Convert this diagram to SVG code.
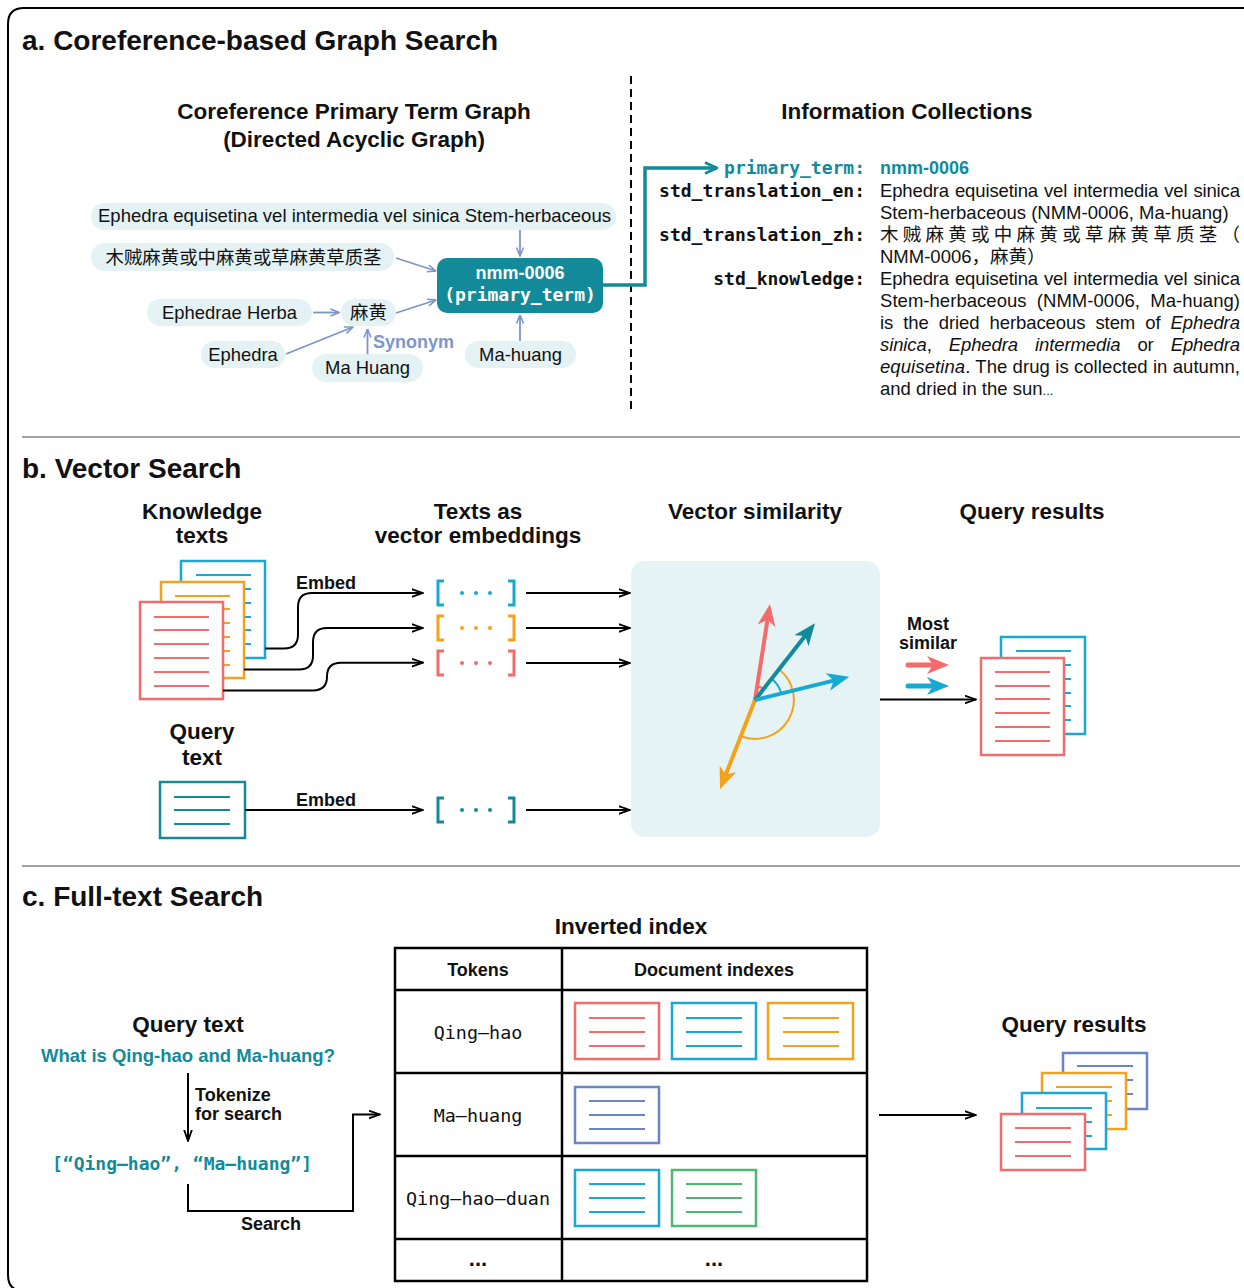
<svg xmlns="http://www.w3.org/2000/svg" width="1244" height="1288" viewBox="0 0 1244 1288">
<defs>
<style>
text{font-family:"Liberation Sans","Noto Sans CJK SC",sans-serif;fill:#111}
.mono{font-family:"DejaVu Sans Mono","Liberation Mono",monospace}
.title{font-weight:bold;font-size:28px}
.head{font-weight:bold;font-size:22.5px;text-anchor:middle}
.pill{fill:#e4f2f4}
.pt{font-size:18.4px;text-anchor:middle}
.lbl{font-weight:bold;font-size:18px}
.body{font-size:18.5px}
.key{font-weight:bold;font-size:18px;text-anchor:end}
.sl{stroke:#7d96c8;stroke-width:1.8;fill:none}
.conn{stroke:#000;stroke-width:2;fill:none}
.sep{stroke:#444;stroke-width:1.2}
.doc{fill:#fff;stroke-width:2.5}
.dl{stroke-width:2.2}
.red{stroke:#f46b6b}.org{stroke:#f5a21b}.blu{stroke:#17a8d4}.tea{stroke:#138a9a}.sla{stroke:#6b84c4}.grn{stroke:#4cb871}
.brk{fill:none;stroke-width:3}
.tbl{stroke:#000;stroke-width:2.5;fill:none}
</style>
<marker id="aSl" viewBox="0 0 10 10" refX="9.5" refY="5" markerWidth="10" markerHeight="10" markerUnits="userSpaceOnUse" orient="auto"><path d="M1,1.5 L9.5,5 L1,8.5" fill="none" stroke="#7d96c8" stroke-width="1.6"/></marker>
<marker id="aBk" viewBox="0 0 12 10" refX="11.5" refY="5" markerWidth="12" markerHeight="10" markerUnits="userSpaceOnUse" orient="auto"><path d="M0,1 L11.5,5 L0,9" fill="none" stroke="#000" stroke-width="1.8"/></marker>
<marker id="aTe" viewBox="0 0 14 14" refX="13" refY="7" markerWidth="14" markerHeight="14" markerUnits="userSpaceOnUse" orient="auto"><path d="M1,1.5 L13,7 L1,12.5" fill="none" stroke="#138a9a" stroke-width="2.6"/></marker>
<marker id="vR" viewBox="0 0 22 18" refX="10" refY="9" markerWidth="22" markerHeight="18" markerUnits="userSpaceOnUse" orient="auto"><path d="M0,0 L22,9 L0,18 L6,9 z" fill="#f46b6b"/></marker>
<marker id="vT" viewBox="0 0 22 18" refX="10" refY="9" markerWidth="22" markerHeight="18" markerUnits="userSpaceOnUse" orient="auto"><path d="M0,0 L22,9 L0,18 L6,9 z" fill="#138a9a"/></marker>
<marker id="vB" viewBox="0 0 22 18" refX="10" refY="9" markerWidth="22" markerHeight="18" markerUnits="userSpaceOnUse" orient="auto"><path d="M0,0 L22,9 L0,18 L6,9 z" fill="#17a8d4"/></marker>
<marker id="vO" viewBox="0 0 22 18" refX="10" refY="9" markerWidth="22" markerHeight="18" markerUnits="userSpaceOnUse" orient="auto"><path d="M0,0 L22,9 L0,18 L6,9 z" fill="#f5a21b"/></marker>
</defs>
<rect width="1244" height="1288" fill="#fff"/>
<path d="M24,1291 Q8,1291 8,1275 V24 Q8,8 24,8 H1260" fill="none" stroke="#000" stroke-width="2"/>
<line class="sep" x1="22" y1="437" x2="1240" y2="437"/>
<line class="sep" x1="22" y1="866" x2="1240" y2="866"/>

<!-- Section a -->
<g id="section-a">
<text class="title" x="22" y="50">a. Coreference-based Graph Search</text>
<text class="head" x="354" y="119">Coreference Primary Term Graph</text>
<text class="head" x="354" y="147">(Directed Acyclic Graph)</text>
<text class="head" x="907" y="119">Information Collections</text>
<line x1="631" y1="76" x2="631" y2="410" stroke="#000" stroke-width="2" stroke-dasharray="8,5"/>
</g>
<g id="node-stem"><rect class="pill" x="91" y="203" width="525" height="27" rx="13.5"/><text class="pt" x="354.5" y="222" textLength="513" lengthAdjust="spacingAndGlyphs">Ephedra equisetina vel intermedia vel sinica Stem-herbaceous</text></g>
<g id="node-zh"><rect class="pill" x="91" y="243" width="303" height="28" rx="14"/><text class="pt" x="243.5" y="263.5">木贼麻黄或中麻黄或草麻黄草质茎</text></g>
<g id="node-primary"><rect x="437" y="258" width="166" height="55" rx="10" fill="#138a9a"/><text class="lbl" x="520" y="279" text-anchor="middle" style="fill:#fff">nmm-0006</text><text class="mono lbl" x="520" y="301" text-anchor="middle" style="fill:#fff">(primary_term)</text></g>
<g id="node-herba"><rect class="pill" x="147" y="299" width="165" height="27" rx="13.5"/><text class="pt" x="229.5" y="319">Ephedrae Herba</text></g>
<g id="node-mahuang-zh"><rect class="pill" x="341" y="299" width="55" height="27" rx="13.5"/><text class="pt" x="368.5" y="319">麻黄</text></g>
<g id="node-ephedra"><rect class="pill" x="201" y="341" width="84" height="27" rx="13.5"/><text class="pt" x="243" y="361">Ephedra</text></g>
<g id="node-ma-huang-sp"><rect class="pill" x="312" y="354" width="111" height="28" rx="14"/><text class="pt" x="367.5" y="374">Ma Huang</text></g>
<g id="node-ma-huang"><rect class="pill" x="465" y="341" width="111" height="27" rx="13.5"/><text class="pt" x="520.5" y="361">Ma-huang</text></g>
<g id="info-collections">
<text class="key mono" x="865" y="174" style="fill:#138a9a">primary_term:</text>
<text class="lbl" x="880" y="174" style="fill:#138a9a">nmm-0006</text>
<text class="key mono" x="865" y="197">std_translation_en:</text>
<text class="body" x="880" y="197" word-spacing="1" textLength="360" lengthAdjust="spacing">Ephedra equisetina vel intermedia vel sinica</text>
<text class="body" x="880" y="219">Stem-herbaceous (NMM-0006, Ma-huang)</text>
<text class="key mono" x="865" y="241">std_translation_zh:</text>
<text class="body" x="880" y="241" textLength="360" lengthAdjust="spacing">木贼麻黄或中麻黄或草麻黄草质茎（</text>
<text class="body" x="880" y="263">NMM-0006，麻黄）</text>
<text class="key mono" x="865" y="285">std_knowledge:</text>
<text class="body" x="880" y="285" word-spacing="1" textLength="360" lengthAdjust="spacing">Ephedra equisetina vel intermedia vel sinica</text>
<text class="body" x="880" y="307" word-spacing="5" textLength="360" lengthAdjust="spacing">Stem-herbaceous (NMM-0006, Ma-huang)</text>
<text class="body" x="880" y="329" word-spacing="5" textLength="360" lengthAdjust="spacing">is the dried herbaceous stem of <tspan font-style="italic">Ephedra</tspan></text>
<text class="body" x="880" y="351" word-spacing="12" textLength="360" lengthAdjust="spacing"><tspan font-style="italic">sinica</tspan>, <tspan font-style="italic">Ephedra intermedia</tspan> or <tspan font-style="italic">Ephedra</tspan></text>
<text class="body" x="880" y="373" textLength="360" lengthAdjust="spacing"><tspan font-style="italic">equisetina</tspan>. The drug is collected in autumn,</text>
<text class="body" x="880" y="395">and dried in the sun<tspan font-size="13">...</tspan></text>
</g>
<g id="connectors-a">
<path class="sl" d="M520,230 V256" marker-end="url(#aSl)"/>
<path class="sl" d="M396,258 L436,271" marker-end="url(#aSl)"/>
<path class="sl" d="M396,313 L436,300" marker-end="url(#aSl)"/>
<path class="sl" d="M313,312.5 L339,312.5" marker-end="url(#aSl)"/>
<path class="sl" d="M286,354 L353,327" marker-end="url(#aSl)"/>
<path class="sl" d="M367.5,354 V329" marker-end="url(#aSl)"/>
<path class="sl" d="M520,341 V315" marker-end="url(#aSl)"/>
<text class="lbl" x="373" y="348" style="fill:#7d96c8">Synonym</text>
<path d="M603,285 H645 V168 H717" fill="none" stroke="#138a9a" stroke-width="3.5" marker-end="url(#aTe)"/>
</g>

<!-- Section b -->
<g id="section-b">
<text class="title" x="22" y="478">b. Vector Search</text>
<text class="head" x="202" y="519">Knowledge</text>
<text class="head" x="202" y="543">texts</text>
<text class="head" x="478" y="519">Texts as</text>
<text class="head" x="478" y="543">vector embeddings</text>
<text class="head" x="755" y="519">Vector similarity</text>
<text class="head" x="1032" y="519">Query results</text>
<text class="head" x="202" y="739">Query</text>
<text class="head" x="202" y="765">text</text>
</g>
<g id="knowledge-docs">
<rect class="doc blu" x="181" y="561" width="84" height="97"/>
<g class="dl blu"><line x1="196" y1="575" x2="251" y2="575"/><line x1="196" y1="589" x2="251" y2="589"/><line x1="196" y1="603" x2="251" y2="603"/><line x1="196" y1="617" x2="251" y2="617"/><line x1="196" y1="630" x2="251" y2="630"/><line x1="196" y1="644" x2="251" y2="644"/></g>
<rect class="doc org" x="161" y="582" width="83" height="96"/>
<g class="dl org"><line x1="175" y1="596" x2="230" y2="596"/><line x1="175" y1="609" x2="230" y2="609"/><line x1="175" y1="623" x2="230" y2="623"/><line x1="175" y1="637" x2="230" y2="637"/><line x1="175" y1="651" x2="230" y2="651"/><line x1="175" y1="665" x2="230" y2="665"/></g>
<rect class="doc red" x="140" y="602" width="83" height="97"/>
<g class="dl red"><line x1="154" y1="617" x2="209" y2="617"/><line x1="154" y1="630" x2="209" y2="630"/><line x1="154" y1="644" x2="209" y2="644"/><line x1="154" y1="658" x2="209" y2="658"/><line x1="154" y1="672" x2="209" y2="672"/><line x1="154" y1="686" x2="209" y2="686"/></g>
</g>
<g id="query-doc-b">
<rect class="doc tea" x="160" y="782" width="85" height="56"/>
<g class="dl tea"><line x1="174" y1="797" x2="230" y2="797"/><line x1="174" y1="810" x2="230" y2="810"/><line x1="174" y1="824" x2="230" y2="824"/></g>
</g>
<g id="embeddings">
<path class="brk blu" d="M444,581 H438 V605 H444 M508,581 H514 V605 H508"/>
<g fill="#17a8d4"><circle cx="462" cy="593" r="2"/><circle cx="476" cy="593" r="2"/><circle cx="490" cy="593" r="2"/></g>
<path class="brk org" d="M444,616 H438 V640 H444 M508,616 H514 V640 H508"/>
<g fill="#f5a21b"><circle cx="462" cy="628" r="2"/><circle cx="476" cy="628" r="2"/><circle cx="490" cy="628" r="2"/></g>
<path class="brk red" d="M444,651 H438 V675 H444 M508,651 H514 V675 H508"/>
<g fill="#f46b6b"><circle cx="462" cy="663" r="2"/><circle cx="476" cy="663" r="2"/><circle cx="490" cy="663" r="2"/></g>
<path class="brk tea" d="M444,798 H438 V822 H444 M508,798 H514 V822 H508"/>
<g fill="#138a9a"><circle cx="462" cy="810" r="2"/><circle cx="476" cy="810" r="2"/><circle cx="490" cy="810" r="2"/></g>
</g>
<g id="similarity">
<rect x="631" y="561" width="249" height="276" rx="14" fill="#e5f3f5"/>
<path d="M779,669.3 A39,39 0 0 1 740.8,736.3" fill="none" stroke="#f5a21b" stroke-width="2"/>
<path d="M771.6,678.7 A27,27 0 0 1 781.2,693.5" fill="none" stroke="#17a8d4" stroke-width="2"/>
<path d="M757.2,686.2 A14,14 0 0 1 763.6,689" fill="none" stroke="#f46b6b" stroke-width="2"/>
<line x1="755" y1="700" x2="724.4" y2="778.1" stroke="#f5a21b" stroke-width="4" marker-end="url(#vO)"/>
<line x1="755" y1="700" x2="768.1" y2="615.9" stroke="#f46b6b" stroke-width="4" marker-end="url(#vR)"/>
<line x1="755" y1="700" x2="807.6" y2="632.8" stroke="#138a9a" stroke-width="4" marker-end="url(#vT)"/>
<line x1="755" y1="700" x2="837.6" y2="679.6" stroke="#17a8d4" stroke-width="4" marker-end="url(#vB)"/>
</g>
<g id="most-similar">
<text class="lbl" x="928" y="630" text-anchor="middle">Most</text>
<text class="lbl" x="928" y="649" text-anchor="middle">similar</text>
<line x1="908" y1="665" x2="937" y2="665" stroke="#f46b6b" stroke-width="5" stroke-linecap="round" marker-end="url(#vR)"/>
<line x1="908" y1="686" x2="937" y2="686" stroke="#17a8d4" stroke-width="5" stroke-linecap="round" marker-end="url(#vB)"/>
</g>
<g id="results-b">
<rect class="doc blu" x="1001" y="637" width="84" height="97"/>
<g class="dl blu"><line x1="1016" y1="651" x2="1071" y2="651"/><line x1="1016" y1="665" x2="1071" y2="665"/><line x1="1016" y1="679" x2="1071" y2="679"/><line x1="1016" y1="693" x2="1071" y2="693"/><line x1="1016" y1="706" x2="1071" y2="706"/><line x1="1016" y1="720" x2="1071" y2="720"/></g>
<rect class="doc red" x="981" y="658" width="83" height="97"/>
<g class="dl red"><line x1="995" y1="672" x2="1050" y2="672"/><line x1="995" y1="686" x2="1050" y2="686"/><line x1="995" y1="699" x2="1050" y2="699"/><line x1="995" y1="713" x2="1050" y2="713"/><line x1="995" y1="727" x2="1050" y2="727"/><line x1="995" y1="741" x2="1050" y2="741"/></g>
</g>
<g id="connectors-b">
<path class="conn" d="M265,648.5 H284 Q298,648.5 298,634.5 V607 Q298,593 312,593 H423" marker-end="url(#aBk)"/>
<path class="conn" d="M244,669.5 H299 Q313,669.5 313,655.5 V642 Q313,628 327,628 H423" marker-end="url(#aBk)"/>
<path class="conn" d="M223,690.5 H313 Q327,690.5 327,676.6 Q327,662.7 341,662.7 H423" marker-end="url(#aBk)"/>
<path class="conn" d="M245,810 H423" marker-end="url(#aBk)"/>
<text class="lbl" x="296" y="589">Embed</text>
<text class="lbl" x="296" y="806">Embed</text>
<path class="conn" d="M526,593 H630" marker-end="url(#aBk)"/>
<path class="conn" d="M526,628 H630" marker-end="url(#aBk)"/>
<path class="conn" d="M526,663 H630" marker-end="url(#aBk)"/>
<path class="conn" d="M526,810 H630" marker-end="url(#aBk)"/>
<path class="conn" d="M880,699.5 H976" marker-end="url(#aBk)"/>
</g>

<!-- Section c -->
<g id="section-c">
<text class="title" x="22" y="906">c. Full-text Search</text>
<text class="head" x="188" y="1032">Query text</text>
<text class="lbl" x="188" y="1062" text-anchor="middle" style="fill:#138a9a;font-size:18.5px">What is Qing-hao and Ma-huang?</text>
<text class="lbl" x="195" y="1101">Tokenize</text>
<text class="lbl" x="195" y="1120">for search</text>
<text class="mono lbl" x="182" y="1170" text-anchor="middle" style="fill:#138a9a">[“Qing–hao”, “Ma–huang”]</text>
<text class="lbl" x="271" y="1230" text-anchor="middle">Search</text>
<text class="head" x="631" y="934">Inverted index</text>
<text class="head" x="1074" y="1032">Query results</text>
</g>
<g id="inverted-index">
<rect class="tbl" x="395" y="948" width="472" height="333"/>
<line class="tbl" x1="562" y1="948" x2="562" y2="1281"/>
<line class="tbl" x1="395" y1="990" x2="867" y2="990"/>
<line class="tbl" x1="395" y1="1073" x2="867" y2="1073"/>
<line class="tbl" x1="395" y1="1156" x2="867" y2="1156"/>
<line class="tbl" x1="395" y1="1239" x2="867" y2="1239"/>
<text class="lbl" x="478" y="976" text-anchor="middle">Tokens</text>
<text class="lbl" x="714" y="976" text-anchor="middle">Document indexes</text>
<text class="mono" x="478" y="1039" text-anchor="middle" font-size="18.4">Qing–hao</text>
<text class="mono" x="478" y="1122" text-anchor="middle" font-size="18.4">Ma–huang</text>
<text class="mono" x="478" y="1205" text-anchor="middle" font-size="18.4">Qing–hao–duan</text>
<text class="lbl" x="478" y="1266" text-anchor="middle" style="font-size:22px">...</text>
<text class="lbl" x="714" y="1266" text-anchor="middle" style="font-size:22px">...</text>
<rect class="doc red" x="575" y="1003" width="84" height="56"/>
<g class="dl red"><line x1="589" y1="1018" x2="645" y2="1018"/><line x1="589" y1="1032" x2="645" y2="1032"/><line x1="589" y1="1046" x2="645" y2="1046"/></g>
<rect class="doc blu" x="672" y="1003" width="84" height="56"/>
<g class="dl blu"><line x1="686" y1="1018" x2="742" y2="1018"/><line x1="686" y1="1032" x2="742" y2="1032"/><line x1="686" y1="1046" x2="742" y2="1046"/></g>
<rect class="doc org" x="768" y="1003" width="85" height="56"/>
<g class="dl org"><line x1="783" y1="1018" x2="839" y2="1018"/><line x1="783" y1="1032" x2="839" y2="1032"/><line x1="783" y1="1046" x2="839" y2="1046"/></g>
<rect class="doc sla" x="575" y="1087" width="84" height="56"/>
<g class="dl sla"><line x1="589" y1="1101" x2="645" y2="1101"/><line x1="589" y1="1115" x2="645" y2="1115"/><line x1="589" y1="1129" x2="645" y2="1129"/></g>
<rect class="doc blu" x="575" y="1170" width="84" height="56"/>
<g class="dl blu"><line x1="589" y1="1184" x2="645" y2="1184"/><line x1="589" y1="1198" x2="645" y2="1198"/><line x1="589" y1="1212" x2="645" y2="1212"/></g>
<rect class="doc grn" x="672" y="1170" width="84" height="56"/>
<g class="dl grn"><line x1="686" y1="1184" x2="742" y2="1184"/><line x1="686" y1="1198" x2="742" y2="1198"/><line x1="686" y1="1212" x2="742" y2="1212"/></g>
</g>
<g id="results-c">
<rect class="doc sla" x="1063" y="1053" width="84" height="56"/>
<g class="dl sla"><line x1="1077" y1="1066" x2="1133" y2="1066"/><line x1="1077" y1="1080" x2="1133" y2="1080"/><line x1="1077" y1="1094" x2="1133" y2="1094"/></g>
<rect class="doc org" x="1042" y="1073" width="84" height="56"/>
<g class="dl org"><line x1="1056" y1="1087" x2="1112" y2="1087"/><line x1="1056" y1="1101" x2="1112" y2="1101"/><line x1="1056" y1="1115" x2="1112" y2="1115"/></g>
<rect class="doc blu" x="1022" y="1093" width="84" height="56"/>
<g class="dl blu"><line x1="1036" y1="1108" x2="1092" y2="1108"/><line x1="1036" y1="1122" x2="1092" y2="1122"/><line x1="1036" y1="1136" x2="1092" y2="1136"/></g>
<rect class="doc red" x="1001" y="1114" width="84" height="56"/>
<g class="dl red"><line x1="1015" y1="1128" x2="1071" y2="1128"/><line x1="1015" y1="1142" x2="1071" y2="1142"/><line x1="1015" y1="1156" x2="1071" y2="1156"/></g>
</g>
<g id="connectors-c">
<path class="conn" d="M188,1073 V1141" marker-end="url(#aBk)"/>
<path class="conn" d="M188,1184 V1211 H353 V1114.5 H380" marker-end="url(#aBk)"/>
<path class="conn" d="M879,1115 H976" marker-end="url(#aBk)"/>
</g>
</svg>
